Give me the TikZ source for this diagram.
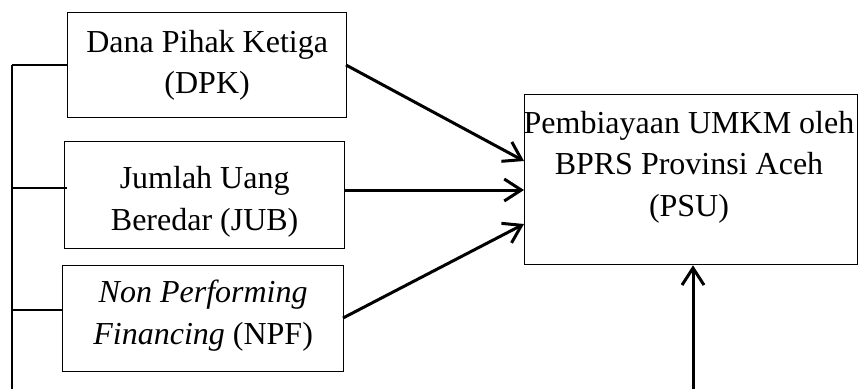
\documentclass[tikz,border=0pt]{standalone}
\usepackage{fontspec}
\setmainfont{Liberation Serif}
\usetikzlibrary{arrows.meta}
\begin{document}
\begin{tikzpicture}[x=1pt,y=-1pt,
  box/.style={draw,line width=1.3pt,inner sep=0pt,anchor=north west},
  lbl/.style={align=center,inner sep=0pt,anchor=north,font=\fontsize{32}{41.5}\selectfont},
  arr/.style={line width=3pt,-{Straight Barb[length=17pt,width=22pt,line width=3pt]}},
  thin/.style={line width=1.3pt}]
\useasboundingbox (0,0) rectangle (859,389);
% boxes
\node[box,minimum width=279pt,minimum height=105pt] (dpk) at (67,12) {};
\node[box,minimum width=280pt,minimum height=107pt] (jub) at (64,141) {};
\node[box,minimum width=281pt,minimum height=106pt] (npf) at (62,265) {};
\node[box,minimum width=333pt,minimum height=170pt] (psu) at (524,94) {};
% texts
\node[lbl] (tdpk) at (dpk.center |- 0,30) {Dana Pihak Ketiga\\(DPK)};
\node[lbl] (tjub) at (jub.center |- 0,166.5) {Jumlah Uang\\Beredar (JUB)};
\node[lbl] (tnpf) at (npf.center |- 0,280) {\textit{Non Performing}\\\textit{Financing} (NPF)};
\node[lbl] (tpsu) at (689,111) {Pembiayaan UMKM oleh\\BPRS Provinsi Aceh\\(PSU)};
% arrows
\draw[arr] (346,65) -- (524,161);
\draw[arr] (jub.east |- 0,190) -- (psu.west |- 0,190);
\draw[arr] (343,318) -- (524,224);
\coordinate (bot) at (693,389);
\draw[arr] (bot) -- (psu.south -| bot);
% left bracket
\coordinate (ltop) at (12,65);
\coordinate (lbot) at (12,389);
\draw[thin] (ltop) -- (lbot);
\draw[thin] (ltop) -- (dpk.west |- ltop);
\draw[thin] (12,188) -- (67,188);
\draw[thin] (12,310) -- (npf.west |- 0,310);
\end{tikzpicture}
\end{document}
